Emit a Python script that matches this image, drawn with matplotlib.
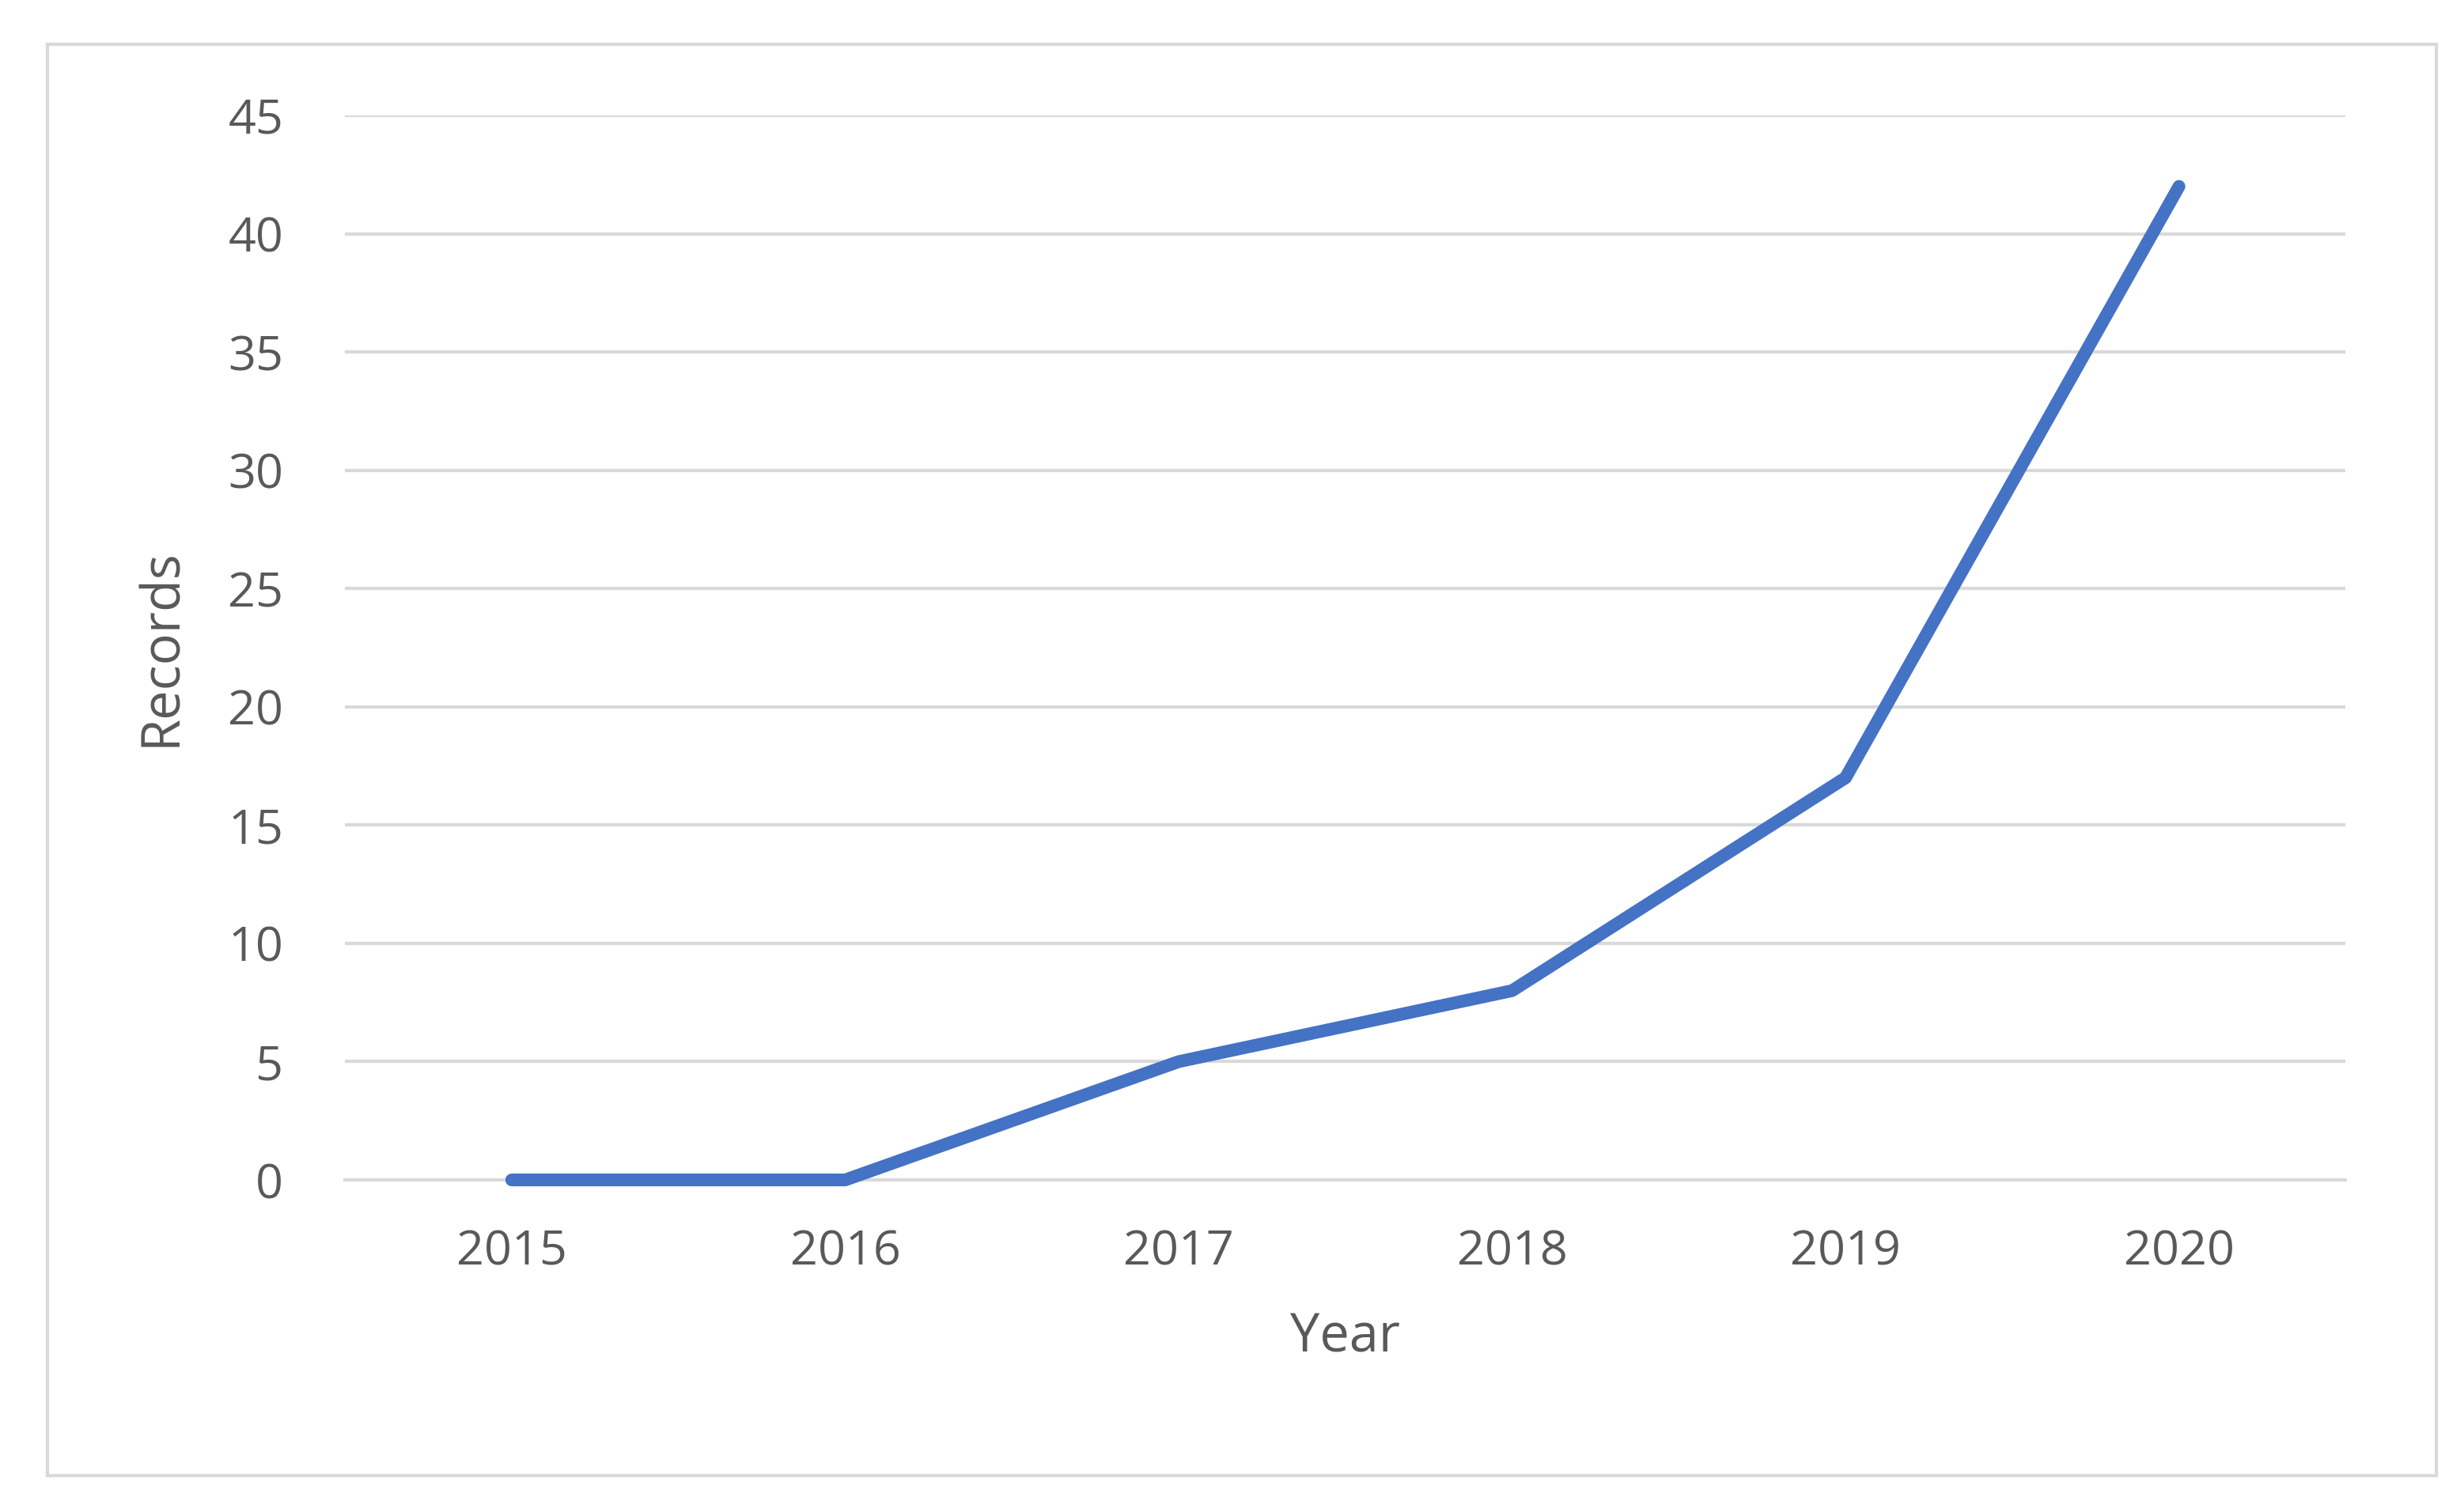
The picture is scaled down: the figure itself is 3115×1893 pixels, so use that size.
import matplotlib
matplotlib.use("Agg")
import matplotlib.pyplot as plt
from matplotlib.patches import Rectangle

years = ["2015", "2016", "2017", "2018", "2019", "2020"]
records = [0, 0, 5, 8, 17, 42]
yticks = [0, 5, 10, 15, 20, 25, 30, 35, 40, 45]

plt.rcParams["font.family"] = ["Open Sans", "DejaVu Sans"]
TXT = "#595959"

fig = plt.figure(figsize=(15.575, 9.465), dpi=200)
fig.patches.append(Rectangle((30 / 1557.5, 1 - 933 / 946.5), 1510 / 1557.5, 905 / 946.5,
                             transform=fig.transFigure, fill=False,
                             edgecolor="#D9D9D9", linewidth=1.5))
ax = fig.add_axes([0.140, 0.2118, 0.812, 0.7111])

x = list(range(len(years)))
ax.plot(x, records, color="#4472C4", linewidth=5.8, solid_capstyle="round",
        solid_joinstyle="round", zorder=3, clip_on=False)

ax.set_xlim(-0.5, len(years) - 0.5)
ax.set_ylim(0, 45)
ax.set_yticks(yticks)
ax.set_xticks(x)
ax.set_xticklabels(years)
ax.grid(axis="y", color="#D9D9D9", linewidth=1.5)
ax.set_axisbelow(True)
for s in ["top", "right", "left"]:
    ax.spines[s].set_visible(False)
ax.spines["bottom"].set_color("#D9D9D9")
ax.spines["bottom"].set_linewidth(1.5)
ax.tick_params(length=0, labelsize=22, colors=TXT)
ax.tick_params(axis="y", pad=28)
ax.tick_params(axis="x", pad=22)
ax.set_xlabel("Year", fontsize=24, color=TXT, labelpad=16)
ax.set_ylabel("Records", fontsize=24, color=TXT, labelpad=18)

fig.savefig("out.png", dpi=200)
